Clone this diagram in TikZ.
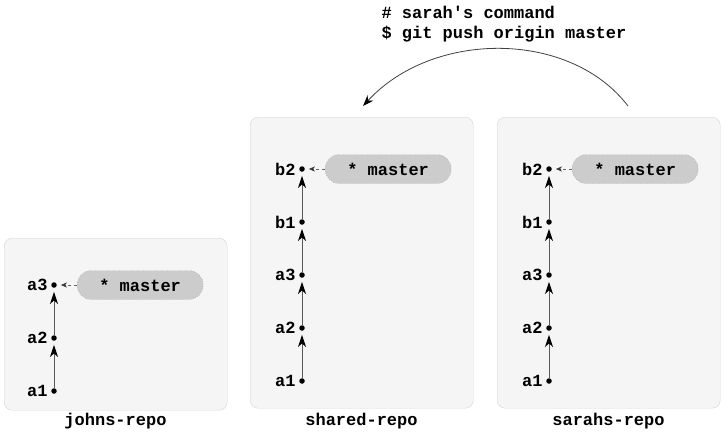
\documentclass[tikz,border=0pt]{standalone}
\usepackage{fontspec}
\setmonofont{Liberation Mono}
\usetikzlibrary{arrows.meta,positioning}

\def\commitsep{53}

\begin{document}
\begin{tikzpicture}[x=1pt,y=-1pt,font=\ttfamily\bfseries\fontsize{17}{20}\selectfont]
      \tikzstyle{repo}=[draw=black!17, fill=black!4, rounded corners=8pt, anchor=north west, inner sep=0pt]
      \tikzstyle{commit}=[circle, fill=black, minimum size=5.5pt, inner sep=0pt]
      \tikzstyle{history}=[draw=black!65, line width=1pt, -{Stealth[black,length=12pt,width=8pt,inset=3.5pt]}, shorten >=4pt]
      \tikzstyle{branch}=[draw=black!45, dotted, fill=black!20, rounded corners=14pt, minimum width=126pt, minimum height=29pt]
      \tikzstyle{head}=[draw=black!60, dashed, -{Stealth[black!80,length=6pt,width=5pt]}, shorten >=4pt]
      \tikzstyle{push}=[draw=black!75, line width=0.8pt, -{Stealth[black,length=11pt,width=8pt]}]
      \tikzstyle{repo name}=[anchor=base]

      \useasboundingbox (0,0) rectangle (725,434);

      % Draw the repositories
      \node[repo, minimum width=223pt, minimum height=172pt] (johns) at (4,238) {};
      \node[repo, minimum width=223pt, minimum height=291pt] (shared) at (250,117) {};
      \node[repo, minimum width=223pt, minimum height=291pt] (sarahs) at (497,117) {};
      \node[repo name] (johns-name) at (115.5,425) {johns-repo};
      \node[repo name] (shared-name) at (361.5,425) {shared-repo};
      \node[repo name] (sarahs-name) at (608.5,425) {sarahs-repo};

      % Draw the commits of every repository
      \foreach \name [count=\i from 0] in {a1,a2,a3}
          \node[commit, label=left:\name] (J-\name) at (54,{391-\i*\commitsep}) {};
      \foreach \name [count=\i from 0] in {a1,a2,a3,b1,b2}
      {
          \node[commit, label=left:\name] (S-\name) at (302,{381-\i*\commitsep}) {};
          \node[commit, label=left:\name] (H-\name) at (549,{381-\i*\commitsep}) {};
      }

      % Connect every commit with its parent
      \foreach \source/\dest in {a1/a2, a2/a3}
          \draw[history] (J-\source) -- (J-\dest);
      \foreach \source/\dest in {a1/a2, a2/a3, a3/b1, b1/b2}
      {
          \draw[history] (S-\source) -- (S-\dest);
          \draw[history] (H-\source) -- (H-\dest);
      }

      % Draw the master branches
      \node[branch, right=20pt of J-a3] (J-master) {* master};
      \node[branch, right=20pt of S-b2] (S-master) {* master};
      \node[branch, right=20pt of H-b2] (H-master) {* master};
      \draw[head] (J-master) -- (J-a3);
      \draw[head] (S-master) -- (S-b2);
      \draw[head] (H-master) -- (H-b2);

      % Annotate the push
      \node[anchor=base west] (comment) at (378,18) {\# sarah\textquotesingle s command};
      \node[anchor=base west] (command) at (378,38) {\$ git push origin master};
      \coordinate (push-from) at (628,106);
      \coordinate (push-to) at (363,106);
      \draw[push] (push-from) .. controls (570,30) and (433,30) .. (push-to);
\end{tikzpicture}
\end{document}
